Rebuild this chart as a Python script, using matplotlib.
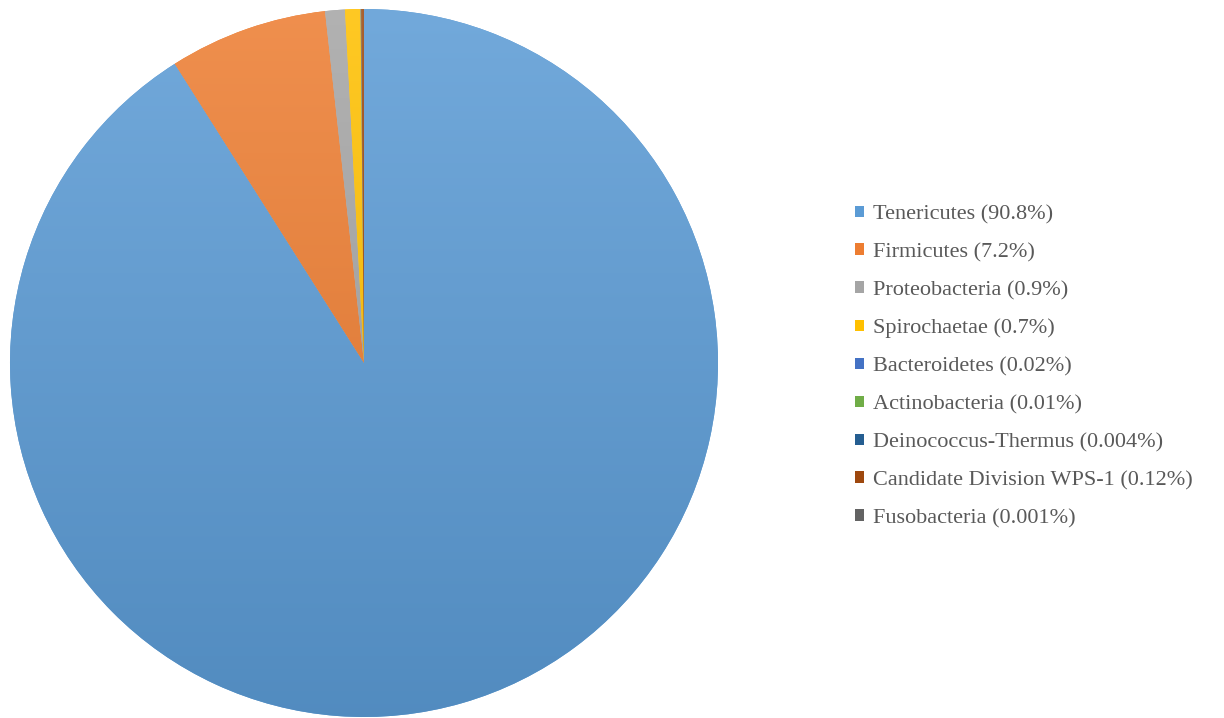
import matplotlib
matplotlib.use("Agg")
import matplotlib.pyplot as plt
import numpy as np
from matplotlib.patches import Patch
from matplotlib.colors import to_rgb

categories = ["Tenericutes", "Firmicutes", "Proteobacteria", "Spirochaetae",
              "Bacteroidetes", "Actinobacteria", "Deinococcus-Thermus",
              "Candidate Division WPS-1", "Fusobacteria"]
values = [90.8, 7.2, 0.9, 0.7, 0.02, 0.01, 0.004, 0.12, 0.001]
pct_labels = ["90.8%", "7.2%", "0.9%", "0.7%", "0.02%", "0.01%", "0.004%", "0.12%", "0.001%"]
colors = ["#5b9bd5", "#ed7d31", "#a5a5a5", "#ffc000", "#4472c4",
          "#70ad47", "#255e91", "#9e480e", "#636363"]

fig = plt.figure(figsize=(12.24, 7.18), dpi=100)
ax = fig.add_axes([10/1224, 1/718, 708/1224, 708/718])
wedges, _ = ax.pie(values, colors=colors, startangle=90, counterclock=False,
                   radius=1.0, wedgeprops=dict(linewidth=0))
ax.set_xlim(-1, 1)
ax.set_ylim(-1, 1)
ax.set_aspect("equal")
ax.axis("off")

# Excel-like vertical gradient on each slice
yy = np.linspace(1, 0, 256)[:, None]
for w, c in zip(wedges, colors):
    rgb = np.array(to_rgb(c))
    top = rgb + (1 - rgb) * 0.14
    bot = rgb * 0.90
    grad = bot[None, None, :] * (1 - yy[..., None]) + top[None, None, :] * yy[..., None]
    grad = np.repeat(grad, 2, axis=1)
    im = ax.imshow(grad, extent=[-1, 1, -1, 1], origin="upper", aspect="auto",
                   interpolation="bilinear", zorder=w.get_zorder() + 0.1)
    im.set_clip_path(w)
ax.set_xlim(-1, 1)
ax.set_ylim(-1, 1)

handles = [Patch(facecolor=c, edgecolor="none") for c in colors]
labels = [f"{n} ({p})" for n, p in zip(categories, pct_labels)]
leg = fig.legend(handles, labels, loc="upper left",
                 bbox_to_anchor=(855/1224, 1 - 205/718), frameon=False,
                 handlelength=0.42, handleheight=0.42, handletextpad=0.4,
                 labelspacing=0.84, borderaxespad=0, borderpad=0,
                 prop={"family": "Liberation Serif", "size": 16})
for t in leg.get_texts():
    t.set_color("#595959")

fig.savefig("out.png", dpi=100, facecolor="white")
